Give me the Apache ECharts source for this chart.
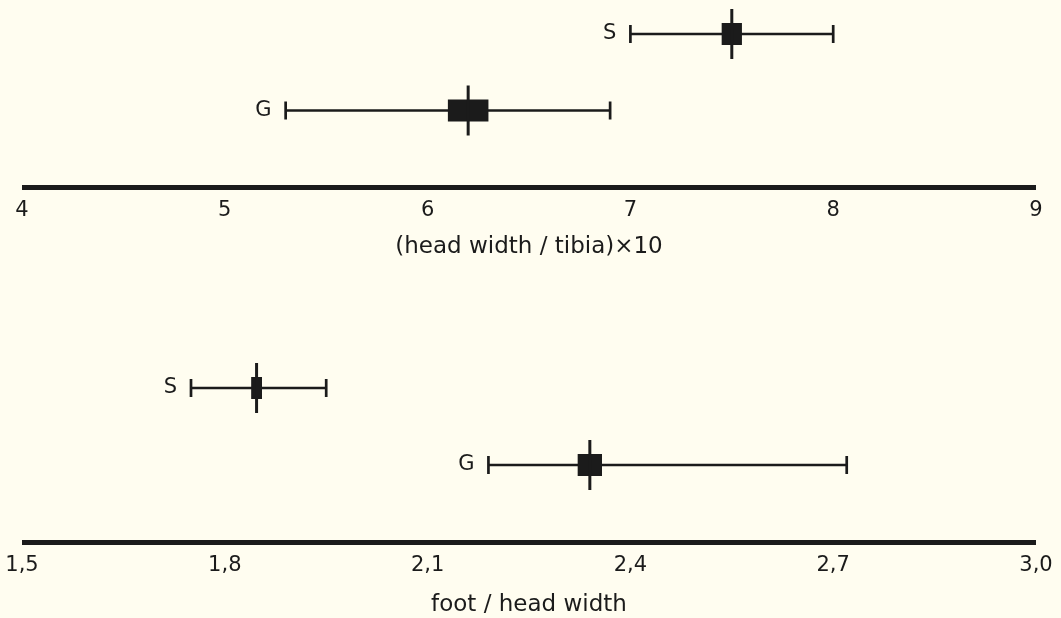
<!DOCTYPE html>
<html>
<head>
<meta charset="utf-8">
<script src="https://cdn.jsdelivr.net/npm/echarts@6/dist/echarts.min.js"></script>
<style>
  html, body { margin: 0; padding: 0; background: #fffdf0; }
  #chart { width: 1061px; height: 618px; }
</style>
</head>
<body>
<div id="chart"></div>
<script>
// ---- data ----
const groups = ['S', 'G'];
const rowCategories = ['', 'G', 'S'];

// top panel: (head width / tibia) x 10
const ratioMin = [7.0, 5.3];
const ratioMax = [8.0, 6.9];
const ratioMean = [7.5, 6.2];
const ratioBoxLow = [7.45, 6.1];
const ratioBoxHigh = [7.55, 6.3];
const ratioTicks = ['4', '5', '6', '7', '8', '9'];

// bottom panel: foot / head width
const footMin = [1.75, 2.19];
const footMax = [1.95, 2.72];
const footMean = [1.847, 2.34];
const footBoxLow = [1.839, 2.322];
const footBoxHigh = [1.855, 2.358];
const footTicks = ['1,5', '1,8', '2,1', '2,4', '2,7', '3,0'];

const topAxisName = '(head width / tibia)×10';
const bottomAxisName = 'foot / head width';

// ---- chart ----
const INK = '#1b1b1b';
const FONT = '"DejaVu Sans", Arial, sans-serif';

function buildData(mn, mx, mean, bl, bh) {
  return groups.map((g, i) => ({ name: g, value: [mn[i], mx[i], mean[i], bl[i], bh[i], g] }));
}

function renderItem(params, api) {
  const cat = api.value(5);
  const label = groups[params.dataIndex];
  const pLow = api.coord([api.value(0), cat]);
  const pHigh = api.coord([api.value(1), cat]);
  const pMean = api.coord([api.value(2), cat]);
  const pBL = api.coord([api.value(3), cat]);
  const pBH = api.coord([api.value(4), cat]);
  const y = pLow[1];
  const capH = 9, meanH = 25, boxH = 22;
  const lineStyle = { stroke: INK, lineWidth: 2.7 };
  return {
    type: 'group',
    children: [
      { type: 'line', shape: { x1: pLow[0], y1: y, x2: pHigh[0], y2: y }, style: lineStyle },
      { type: 'line', shape: { x1: pLow[0], y1: y - capH, x2: pLow[0], y2: y + capH }, style: lineStyle },
      { type: 'line', shape: { x1: pHigh[0], y1: y - capH, x2: pHigh[0], y2: y + capH }, style: lineStyle },
      { type: 'rect', shape: { x: pBL[0], y: y - boxH / 2, width: Math.max(pBH[0] - pBL[0], 6), height: boxH }, style: { fill: INK } },
      { type: 'line', shape: { x1: pMean[0], y1: y - meanH, x2: pMean[0], y2: y + meanH }, style: { stroke: INK, lineWidth: 3 } },
      { type: 'text', x: pLow[0] - 14, y: y, style: { text: label, fill: INK, font: '21px ' + FONT, align: 'right', verticalAlign: 'middle' } }
    ]
  };
}

function xAxisCfg(gridIndex, min, max, interval, labels, name, nameGap, margin) {
  return {
    type: 'value', gridIndex: gridIndex, min: min, max: max, interval: interval,
    position: 'bottom',
    axisLine: { show: true, lineStyle: { color: INK, width: 5, cap: 'butt' } },
    axisTick: { show: false },
    splitLine: { show: false },
    axisLabel: {
      color: INK, fontSize: 21, fontFamily: FONT, margin: margin,
      formatter: function (v) {
        const idx = Math.round((v - min) / interval);
        return labels[idx];
      }
    },
    name: name, nameLocation: 'middle', nameGap: nameGap,
    nameTextStyle: { color: INK, fontSize: 23, fontFamily: FONT }
  };
}

const chart = echarts.init(document.getElementById('chart'));
chart.setOption({
  backgroundColor: '#fffdf0',
  animation: false,
  grid: [
    { left: 22, right: 25, top: 34, height: 153 },
    { left: 22, right: 25, top: 388, height: 154 }
  ],
  xAxis: [
    xAxisCfg(0, 4, 9, 1, ratioTicks, topAxisName, 49, 13),
    xAxisCfg(1, 1.5, 3.0, 0.3, footTicks, bottomAxisName, 52, 13)
  ],
  yAxis: [
    { type: 'category', gridIndex: 0, data: rowCategories, boundaryGap: false, show: false },
    { type: 'category', gridIndex: 1, data: rowCategories, boundaryGap: false, show: false }
  ],
  series: [
    {
      type: 'custom', xAxisIndex: 0, yAxisIndex: 0, renderItem: renderItem,
      encode: { x: [0, 1, 2, 3, 4], y: 5 },
      data: buildData(ratioMin, ratioMax, ratioMean, ratioBoxLow, ratioBoxHigh)
    },
    {
      type: 'custom', xAxisIndex: 1, yAxisIndex: 1, renderItem: renderItem,
      encode: { x: [0, 1, 2, 3, 4], y: 5 },
      data: buildData(footMin, footMax, footMean, footBoxLow, footBoxHigh)
    }
  ]
});
</script>
</body>
</html>
